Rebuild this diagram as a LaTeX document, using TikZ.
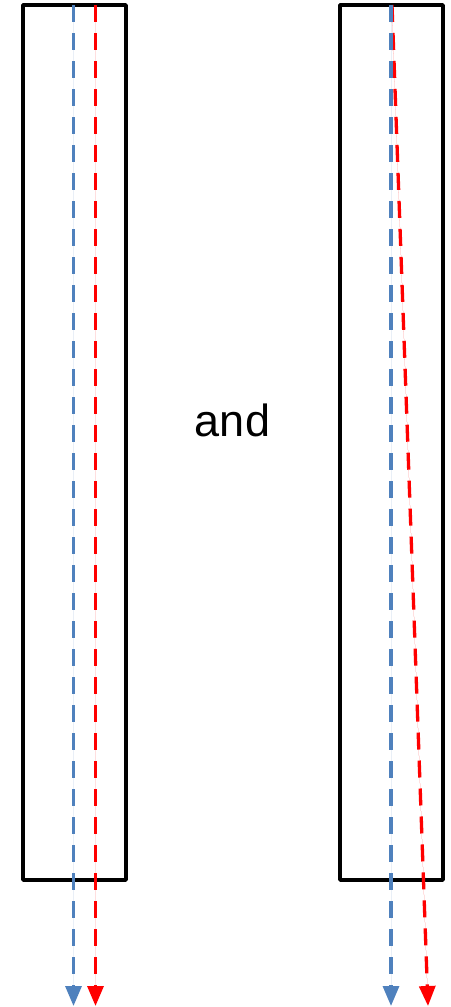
\documentclass[tikz,border=0pt]{standalone}
\usepackage{fontspec}
\setmainfont{Liberation Sans}
\usetikzlibrary{arrows.meta}
\definecolor{rayblue}{RGB}{79,129,189}
\definecolor{rayred}{RGB}{255,0,0}
\begin{document}
\begin{tikzpicture}[x=1pt,y=-1pt,
  slab/.style={draw=black,line width=3.8pt,line join=round},
  ray/.style={line width=3.3pt,dash pattern=on 17pt off 11pt,
    -{Triangle[length=20pt,width=16pt]}},
  blueray/.style={ray,draw=rayblue,fill=rayblue},
  redray/.style={ray,draw=rayred,fill=rayred}]
\useasboundingbox (0,0) rectangle (450,1007);
% two slabs
\draw[slab] (23,5) rectangle (126,880);
\draw[slab] (340,5) rectangle (443,880);
% ray end points
\coordinate (lbTop) at (73.5,5);
\coordinate (lbBot) at (73.5,1006);
\coordinate (lrTop) at (95.5,5);
\coordinate (lrBot) at (95.5,1006);
\coordinate (rbTop) at (391,5);
\coordinate (rbBot) at (391,1006);
\coordinate (rrTop) at (392,5);
\coordinate (rrBot) at (428,1006);
% rays through the left slab
\draw[blueray] (lbTop) -- (lbBot);
\draw[redray] (lrTop) -- (lrBot);
% rays through the right slab
\draw[redray] (rrTop) -- (rrBot);
\draw[blueray] (rbTop) -- (rbBot);
% joining word
\node[font=\fontsize{45}{50}\selectfont] (andword) at (232.5,420) {and};
\end{tikzpicture}
\end{document}
